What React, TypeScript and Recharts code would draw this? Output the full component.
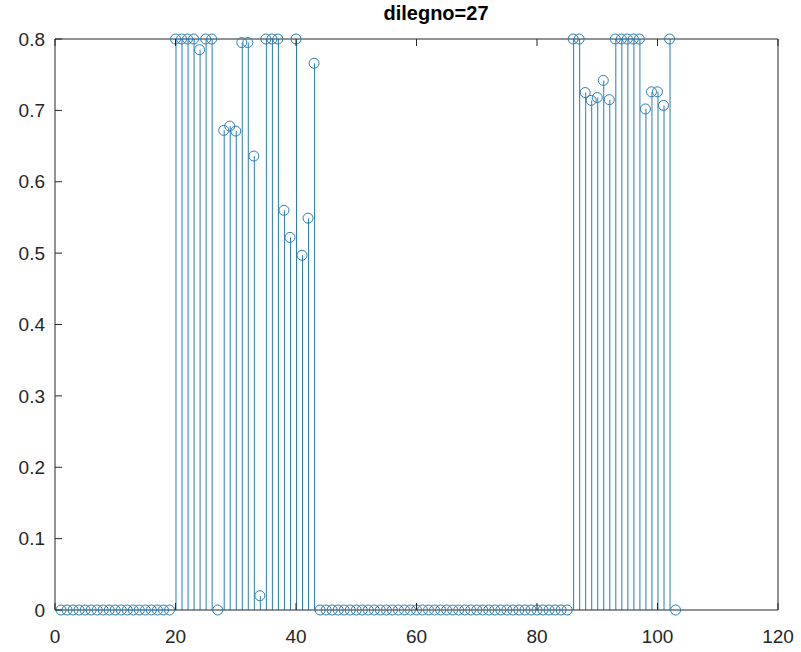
import { ComposedChart, Bar, Scatter, XAxis, YAxis } from "recharts";

const title = "dilegno=27";

// stem heights for samples 1..103
const values = [
  0, 0, 0, 0, 0, 0, 0, 0, 0, 0, 0, 0, 0, 0, 0, 0, 0, 0, 0,
  0.8, 0.8, 0.8, 0.8, 0.785, 0.8, 0.8, 0, 0.672, 0.678, 0.671, 0.795, 0.795,
  0.636, 0.02, 0.8, 0.8, 0.8, 0.56, 0.522, 0.8, 0.497, 0.549, 0.766,
  0, 0, 0, 0, 0, 0, 0, 0, 0, 0, 0, 0, 0, 0, 0, 0, 0, 0, 0, 0, 0,
  0, 0, 0, 0, 0, 0, 0, 0, 0, 0, 0, 0, 0, 0, 0, 0, 0, 0, 0, 0, 0,
  0.8, 0.8, 0.725, 0.714, 0.718, 0.742, 0.715, 0.8, 0.8, 0.8, 0.8, 0.8,
  0.702, 0.726, 0.726, 0.707, 0.8, 0,
];

const xTicks = [0, 20, 40, 60, 80, 100, 120];
const yTicks = [0, 0.1, 0.2, 0.3, 0.4, 0.5, 0.6, 0.7, 0.8];

const data = values.map((v, i) => ({ n: i + 1, v }));

const stemColor = "#2a7db3";
const axisColor = "#262626";
const font = "'Liberation Sans', Arial, sans-serif";
const fontSize = 19;
const tickLen = 7;
const xMargin = 20;
const yMargin = 10;

const OpenCircle = (props: any) => {
  const { cx, cy } = props;
  return <circle cx={cx} cy={cy} r={5} fill="none" stroke={stemColor} strokeWidth={1} />;
};

// MATLAB-style ticks point into the axes box
const BottomTick = (props: any) => {
  const { x, y, payload } = props;
  return (
    <g>
      <line x1={x} x2={x} y1={y - xMargin} y2={y - xMargin - tickLen} stroke={axisColor} />
      <text x={x} y={y} dy="0.71em" textAnchor="middle" fontSize={fontSize} fontFamily={font} fill={axisColor}>
        {payload.value}
      </text>
    </g>
  );
};

const TopTick = (props: any) => {
  const { x, y } = props;
  return <line x1={x} x2={x} y1={y} y2={y + tickLen} stroke={axisColor} />;
};

const LeftTick = (props: any) => {
  const { x, y, payload } = props;
  const v = payload.value;
  return (
    <g>
      <line x1={x + yMargin} x2={x + yMargin + tickLen} y1={y} y2={y} stroke={axisColor} />
      <text x={x} y={y} dy="0.355em" textAnchor="end" fontSize={fontSize} fontFamily={font} fill={axisColor}>
        {v === 0 ? "0" : String(Math.round(v * 10) / 10)}
      </text>
    </g>
  );
};

const RightTick = (props: any) => {
  const { x, y } = props;
  return <line x1={x} x2={x - tickLen} y1={y} y2={y} stroke={axisColor} />;
};

export default function App() {
  return (
    <div style={{ position: "absolute", left: 0, top: 0, width: 801, height: 652, background: "#fff" }}>
      <div
        style={{
          position: "absolute", left: 336, width: 200, top: 2, textAlign: "center",
          fontFamily: font, fontWeight: "bold", fontSize: 20, color: "#000",
        }}
      >
        {title}
      </div>
      <ComposedChart width={801} height={652} data={data} margin={{ top: 38, right: 22, bottom: 12, left: 0 }}>
        <XAxis
          dataKey="n" type="number" domain={[0, 120]} ticks={xTicks} stroke={axisColor}
          tickLine={false} tickSize={0} tickMargin={xMargin} tick={<BottomTick />} height={30}
        />
        <XAxis
          xAxisId="top" orientation="top" dataKey="n" type="number" domain={[0, 120]} ticks={xTicks}
          stroke={axisColor} tickLine={false} tickSize={0} tickMargin={0} tick={<TopTick />} height={1}
        />
        <YAxis
          type="number" domain={[0, 0.8]} ticks={yTicks} stroke={axisColor}
          tickLine={false} tickSize={0} tickMargin={yMargin} tick={<LeftTick />} width={55}
        />
        <YAxis
          yAxisId="right" orientation="right" type="number" domain={[0, 0.8]} ticks={yTicks}
          stroke={axisColor} tickLine={false} tickSize={0} tickMargin={0} tick={<RightTick />} width={1}
        />
        <Bar dataKey="v" barSize={1} fill={stemColor} isAnimationActive={false} />
        <Scatter dataKey="v" shape={OpenCircle} isAnimationActive={false} />
      </ComposedChart>
    </div>
  );
}
